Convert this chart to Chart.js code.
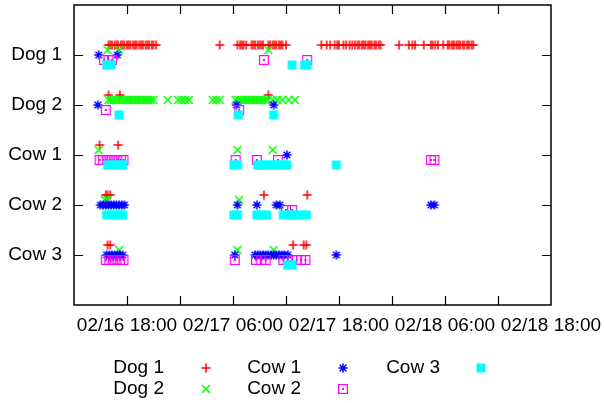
<!DOCTYPE html>
<html>
<head>
<meta charset="utf-8">
<script src="https://cdn.jsdelivr.net/npm/chart.js@4/dist/chart.umd.min.js"></script>
<style>
  html, body { margin: 0; padding: 0; background: #fff; }
  canvas { display: block; }
</style>
</head>
<body>
<canvas id="chart" width="604" height="403"></canvas>
<script>
// rows on the y axis, top to bottom (value 5 .. 1)
const rowNames = ["Dog 1", "Dog 2", "Cow 1", "Cow 2", "Cow 3"];
const rowValues = [5, 4, 3, 2, 1];

// x axis: hours since 02/16 00:00
const xMin = 12;
const xMax = 66;
const labelHours = [18, 30, 42, 54, 66];
const labelTexts = ["02/16 18:00", "02/17 06:00", "02/17 18:00", "02/18 06:00", "02/18 18:00"];

// observation times per series, one list per row (Dog 1, Dog 2, Cow 1, Cow 2, Cow 3)
const dog1Times = [
  [15.9, 16.1, 16.3, 16.6, 16.8, 17.0, 17.3, 17.5, 17.7, 18.0, 18.2, 18.4, 18.7, 18.9, 19.1, 19.4,
   19.6, 19.8, 20.1, 20.3, 20.5, 20.8, 21.0, 21.3, 28.5,
   30.5, 30.8, 31.0, 31.2, 31.5, 32.1, 32.3, 32.5, 32.8, 33.0, 33.2, 33.4, 34.0, 34.2, 34.5, 34.7,
   34.9, 35.2, 35.4, 35.6, 36.0,
   40.0, 40.6, 41.0, 41.5, 41.8, 42.0, 42.5, 42.8, 43.2, 43.5, 43.8, 44.1, 44.3, 44.6, 44.8, 45.0,
   45.3, 45.5, 45.7, 46.0, 46.2, 46.5, 46.7,
   48.8, 49.9, 50.3, 50.6, 51.6, 52.4, 52.6, 52.9, 53.2, 53.8, 54.3, 54.5, 54.8, 55.0, 55.3, 55.5,
   55.7, 56.0, 56.2, 56.5, 56.7, 57.0, 57.2],
  [15.9, 17.2, 34.0],
  [14.9, 17.0],
  [15.6, 15.8, 16.1, 33.5, 38.4],
  [15.8, 16.1, 36.8, 38.0, 38.3]
];
const dog2Times = [
  [15.8, 17.1, 34.0],
  [15.9, 16.2, 16.5, 16.8, 17.1, 17.4, 17.7, 18.0, 18.3, 18.6, 18.9, 19.2, 19.5, 19.8, 20.1, 20.4,
   20.7, 21.0, 22.6, 23.8, 24.2, 24.6, 25.0, 27.7, 28.1, 28.5,
   30.3, 30.6, 30.9, 31.2, 31.5, 31.8, 32.1, 32.4, 32.7, 33.0, 33.3, 33.6, 33.9, 34.5, 35.0, 35.6,
   36.3, 37.0],
  [14.8, 30.5, 34.5],
  [15.5, 15.8, 30.7],
  [17.1, 30.5, 34.6]
];
const cow1Times = [
  [14.8, 16.9],
  [14.7, 30.4, 34.6],
  [36.1],
  [15.0, 15.3, 15.6, 15.9, 16.2, 16.5, 16.8, 17.1, 17.4, 17.7, 30.5, 32.7, 34.9, 35.3, 52.4, 52.8],
  [15.7, 16.0, 16.3, 16.6, 16.9, 17.2, 17.5, 30.2, 32.5, 32.8, 33.1, 33.4, 33.7, 34.0, 34.3, 34.6,
   34.9, 35.2, 35.5, 35.8, 36.2, 41.7]
];
const cow2Times = [
  [15.4, 15.9, 16.3, 33.5, 38.4],
  [15.6, 30.7],
  [14.9, 15.3, 15.7, 16.1, 16.5, 16.9, 17.3, 17.6, 30.3, 32.7, 35.1, 52.4, 52.8],
  [36.0, 36.7],
  [15.6, 16.0, 16.4, 16.8, 17.2, 17.6, 30.2, 32.6, 33.2, 33.7, 35.7, 36.2, 36.7, 37.2, 37.7, 38.2]
];
const cow3Times = [
  [15.7, 16.2, 36.7, 38.1, 38.4],
  [17.1, 30.6, 34.6],
  [15.8, 16.3, 16.8, 17.3, 17.5, 30.1, 30.5, 32.8, 33.3, 33.8, 34.3, 34.8, 35.3, 35.8, 36.1, 41.7],
  [15.7, 16.2, 16.7, 17.2, 17.5, 30.1, 30.5, 32.7, 33.2, 33.8, 35.7, 36.2, 36.7, 37.2, 37.7, 38.3],
  [36.2, 36.7]
];

const seriesNames = ["Dog 1", "Dog 2", "Cow 1", "Cow 2", "Cow 3"];
const seriesTimes = [dog1Times, dog2Times, cow1Times, cow2Times, cow3Times];

// ---- styling ----
const colors = ["#ff0000", "#00ff00", "#0000ff", "#ff00ff", "#00ffff"];
const kinds = ["plus", "cross", "star", "box", "fill"];
const shift = [0.2, 0.1, 0, -0.1, -0.2];   // vertical offset of each series inside a row
const FONT = { family: "'Liberation Sans', Arial, sans-serif", size: 19 };

function makeMarker(kind, color) {
  const c = document.createElement("canvas");
  c.width = 12; c.height = 12;
  const g = c.getContext("2d");
  g.strokeStyle = color;
  g.fillStyle = color;
  g.lineWidth = 1.5;
  const m = 6, r = 4.5;
  g.beginPath();
  if (kind === "plus" || kind === "star") {
    g.moveTo(m - r, m); g.lineTo(m + r, m);
    g.moveTo(m, m - r); g.lineTo(m, m + r);
  }
  if (kind === "cross" || kind === "star") {
    const d = kind === "star" ? 3.3 : 4;
    g.moveTo(m - d, m - d); g.lineTo(m + d, m + d);
    g.moveTo(m - d, m + d); g.lineTo(m + d, m - d);
  }
  g.stroke();
  if (kind === "box") {
    g.lineWidth = 1.2;
    g.strokeRect(m - 4.4, m - 4.4, 8.8, 8.8);
    g.fillRect(m - 1, m - 1, 2, 2);
  }
  if (kind === "fill") g.fillRect(m - 4.5, m - 4.5, 9, 9);
  return c;
}
const markers = kinds.map((k, i) => makeMarker(k, colors[i]));

const datasets = seriesNames.map((name, s) => {
  const pts = [];
  seriesTimes[s].forEach((times, r) => {
    times.forEach(t => pts.push({ x: t, y: rowValues[r] + shift[s] }));
  });
  return {
    label: name,
    data: pts,
    pointStyle: markers[s],
    pointRadius: 4,
    showLine: false,
    order: 5 - s
  };
});

// frame with inward ticks (gnuplot style), drawn from the chart's own scales
const framePlugin = {
  id: "frame",
  beforeDatasetsDraw(chart) {
    const { ctx, chartArea: a, scales } = chart;
    ctx.save();
    ctx.strokeStyle = "#000";
    ctx.lineWidth = 1.5;
    ctx.strokeRect(a.left, a.top, a.right - a.left, a.bottom - a.top);
    ctx.lineWidth = 1.2;
    ctx.beginPath();
    for (let h = xMin + 6; h < xMax; h += 6) {
      const x = Math.round(scales.x.getPixelForValue(h)) + 0.5;
      ctx.moveTo(x, a.bottom); ctx.lineTo(x, a.bottom - 9);
      ctx.moveTo(x, a.top); ctx.lineTo(x, a.top + 9);
    }
    rowValues.forEach(v => {
      const y = Math.round(scales.y.getPixelForValue(v)) + 0.5;
      ctx.moveTo(a.left, y); ctx.lineTo(a.left + 9, y);
      ctx.moveTo(a.right, y); ctx.lineTo(a.right - 9, y);
    });
    ctx.stroke();
    ctx.restore();
  }
};

// key below the plot: text right-aligned, sample to its right
const keyPlugin = {
  id: "key",
  afterDraw(chart) {
    const ctx = chart.ctx;
    const cols = [[164, 206], [301, 343], [440, 481]];
    const rowsY = [368, 389];
    ctx.save();
    ctx.font = FONT.size + "px " + FONT.family;
    ctx.fillStyle = "#000";
    ctx.textAlign = "right";
    ctx.textBaseline = "middle";
    seriesNames.forEach((name, s) => {
      const c = cols[Math.floor(s / 2)];
      const y = rowsY[s % 2];
      ctx.fillText(name, c[0], y);
      const mk = markers[s];
      ctx.drawImage(mk, c[1] - mk.width / 2, y - mk.height / 2);
    });
    ctx.restore();
  }
};

new Chart(document.getElementById("chart").getContext("2d"), {
  type: "scatter",
  data: { datasets },
  plugins: [framePlugin, keyPlugin],
  options: {
    responsive: false,
    animation: false,
    events: [],
    layout: { padding: { left: 0, right: 53, top: 4, bottom: 0 } },
    plugins: { legend: { display: false }, tooltip: { enabled: false } },
    scales: {
      x: {
        type: "linear",
        min: xMin,
        max: xMax,
        grid: { display: false, drawTicks: false },
        border: { display: false },
        ticks: {
          stepSize: 6,
          autoSkip: false,
          maxRotation: 0,
          minRotation: 0,
          padding: 9,
          color: "#000",
          font: FONT,
          callback: v => {
            const i = labelHours.indexOf(v);
            return i >= 0 ? labelTexts[i] : "";
          }
        },
        afterFit: sc => { sc.height = 98; sc.paddingLeft = 0; sc.paddingRight = 0; }
      },
      y: {
        type: "linear",
        min: 0,
        max: 6,
        grid: { display: false, drawTicks: false },
        border: { display: false },
        ticks: {
          stepSize: 1,
          autoSkip: false,
          padding: 12,
          color: "#000",
          font: FONT,
          callback: v => {
            const i = rowValues.indexOf(v);
            return i >= 0 ? rowNames[i] : "";
          }
        },
        afterFit: sc => { sc.width = 74; sc.paddingTop = 0; sc.paddingBottom = 0; }
      }
    }
  }
});
</script>
</body>
</html>
